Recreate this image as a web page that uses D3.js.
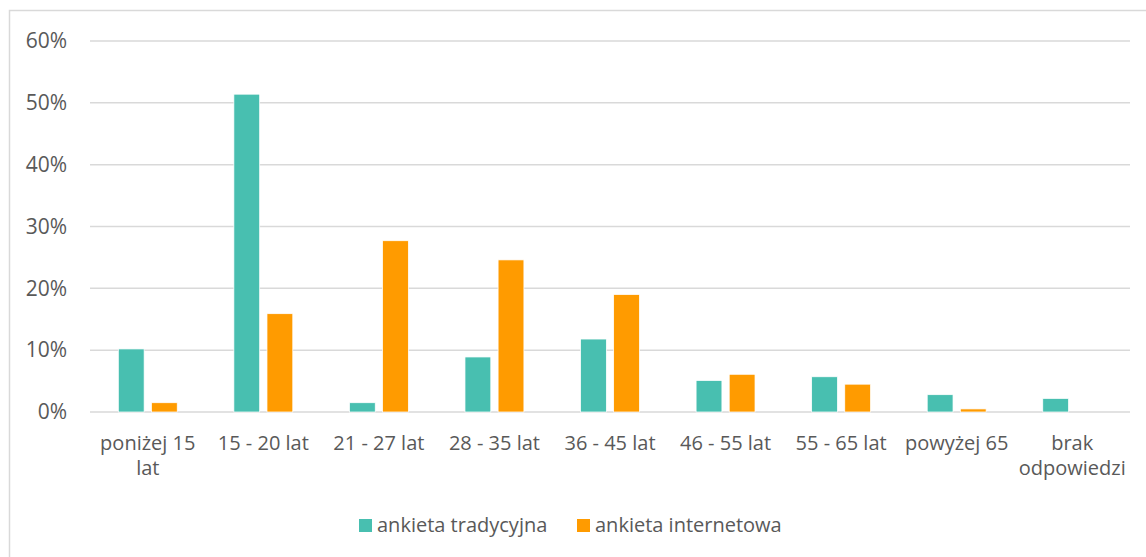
<!DOCTYPE html>
<head>
  <meta charset="utf-8">
  <script src="https://d3js.org/d3.v7.min.js"></script>
  <style>
    body { margin: 0; background: #fff; }
    text { font-family: "Open Sans", Lato, sans-serif; fill: #595959; }
  </style>
</head>
<body>
  <svg width="1146" height="557"></svg>
  <script>

  var categories = ["poniżej 15 lat", "15 - 20 lat", "21 - 27 lat", "28 - 35 lat", "36 - 45 lat",
                    "46 - 55 lat", "55 - 65 lat", "powyżej 65", "brak odpowiedzi"];
  var seriesNames = ["ankieta tradycyjna", "ankieta internetowa"];
  var tradycyjna = [10.2, 51.4, 1.5, 8.9, 11.8, 5.1, 5.7, 2.8, 2.2];
  var internetowa = [1.5, 15.9, 27.7, 24.6, 19.0, 6.1, 4.5, 0.5, 0];
  var yTicks = [0, 10, 20, 30, 40, 50, 60];
  var colors = ["#48bfb0", "#ff9b00"];

  var svg = d3.select("svg");
  var fontSize = 20;

  // chart frame
  svg.append("rect")
    .attr("x", 9.5).attr("y", 10.5)
    .attr("width", 1150).attr("height", 560)
    .attr("fill", "none").attr("stroke", "#d9d9d9").attr("stroke-width", 1.5);

  var plotLeft = 90, plotRight = 1130, plotTop = 41, plotBottom = 412;

  var y = d3.scaleLinear().domain([0, 60]).range([plotBottom, plotTop]);

  var x0 = d3.scaleBand()
    .domain(categories)
    .range([plotLeft, plotRight])
    .paddingInner(0.49)
    .paddingOuter(0.245);

  var x1 = d3.scaleBand()
    .domain(seriesNames)
    .range([0, x0.bandwidth()])
    .paddingInner(0.22);

  // gridlines
  svg.append("g")
    .selectAll("line")
    .data(yTicks)
    .enter().append("line")
    .attr("x1", plotLeft).attr("x2", plotRight)
    .attr("y1", function(d) { return y(d); })
    .attr("y2", function(d) { return y(d); })
    .attr("stroke", "#d9d9d9")
    .attr("stroke-width", 1.5);

  // y axis labels
  var yAxis = d3.axisLeft(y).tickValues(yTicks).tickSize(0).tickPadding(0)
    .tickFormat(function(d) { return d + "%"; });
  var yg = svg.append("g").attr("transform", "translate(67,0)").call(yAxis);
  yg.select(".domain").remove();
  yg.attr("font-family", null).attr("font-size", 21);
  yg.selectAll("text").attr("fill", "#595959");

  // bars
  var series = [tradycyjna, internetowa];
  var groups = svg.append("g")
    .selectAll("g")
    .data(categories)
    .enter().append("g")
    .attr("transform", function(d) { return "translate(" + x0(d) + ",0)"; });

  groups.selectAll("rect")
    .data(function(d, i) {
      return seriesNames.map(function(s, k) { return { s: s, k: k, v: series[k][i] }; })
        .filter(function(e) { return e.v > 0; });
    })
    .enter().append("rect")
    .attr("x", function(d) { return x1(d.s); })
    .attr("width", x1.bandwidth())
    .attr("y", function(d) { return y(d.v); })
    .attr("height", function(d) { return plotBottom - y(d.v); })
    .attr("fill", function(d) { return colors[d.k]; })
    .attr("stroke", "#fff")
    .attr("stroke-width", 0.75);

  // x labels (wrapped)
  function wrapLabel(label) {
    if (label === "poniżej 15 lat") return ["poniżej 15", "lat"];
    if (label === "brak odpowiedzi") return ["brak", "odpowiedzi"];
    return [label];
  }

  var xl = svg.append("g")
    .selectAll("text")
    .data(categories)
    .enter().append("text")
    .attr("text-anchor", "middle")
    .attr("font-size", fontSize)
    .attr("transform", function(d) { return "translate(" + (x0(d) + x0.bandwidth() / 2) + ",450)"; });

  xl.selectAll("tspan")
    .data(function(d) { return wrapLabel(d); })
    .enter().append("tspan")
    .attr("x", 0)
    .attr("dy", function(d, i) { return i === 0 ? 0 : 25; })
    .text(function(d) { return d; });

  // legend
  var legendX = [359, 577];
  var legend = svg.append("g")
    .selectAll("g")
    .data(seriesNames)
    .enter().append("g")
    .attr("transform", function(d, i) { return "translate(" + legendX[i] + ",519)"; });

  legend.append("rect")
    .attr("width", 13).attr("height", 13)
    .attr("fill", function(d, i) { return colors[i]; });

  legend.append("text")
    .attr("x", 18).attr("y", 13)
    .attr("font-size", fontSize)
    .text(function(d) { return d; });

  </script>
</body>
